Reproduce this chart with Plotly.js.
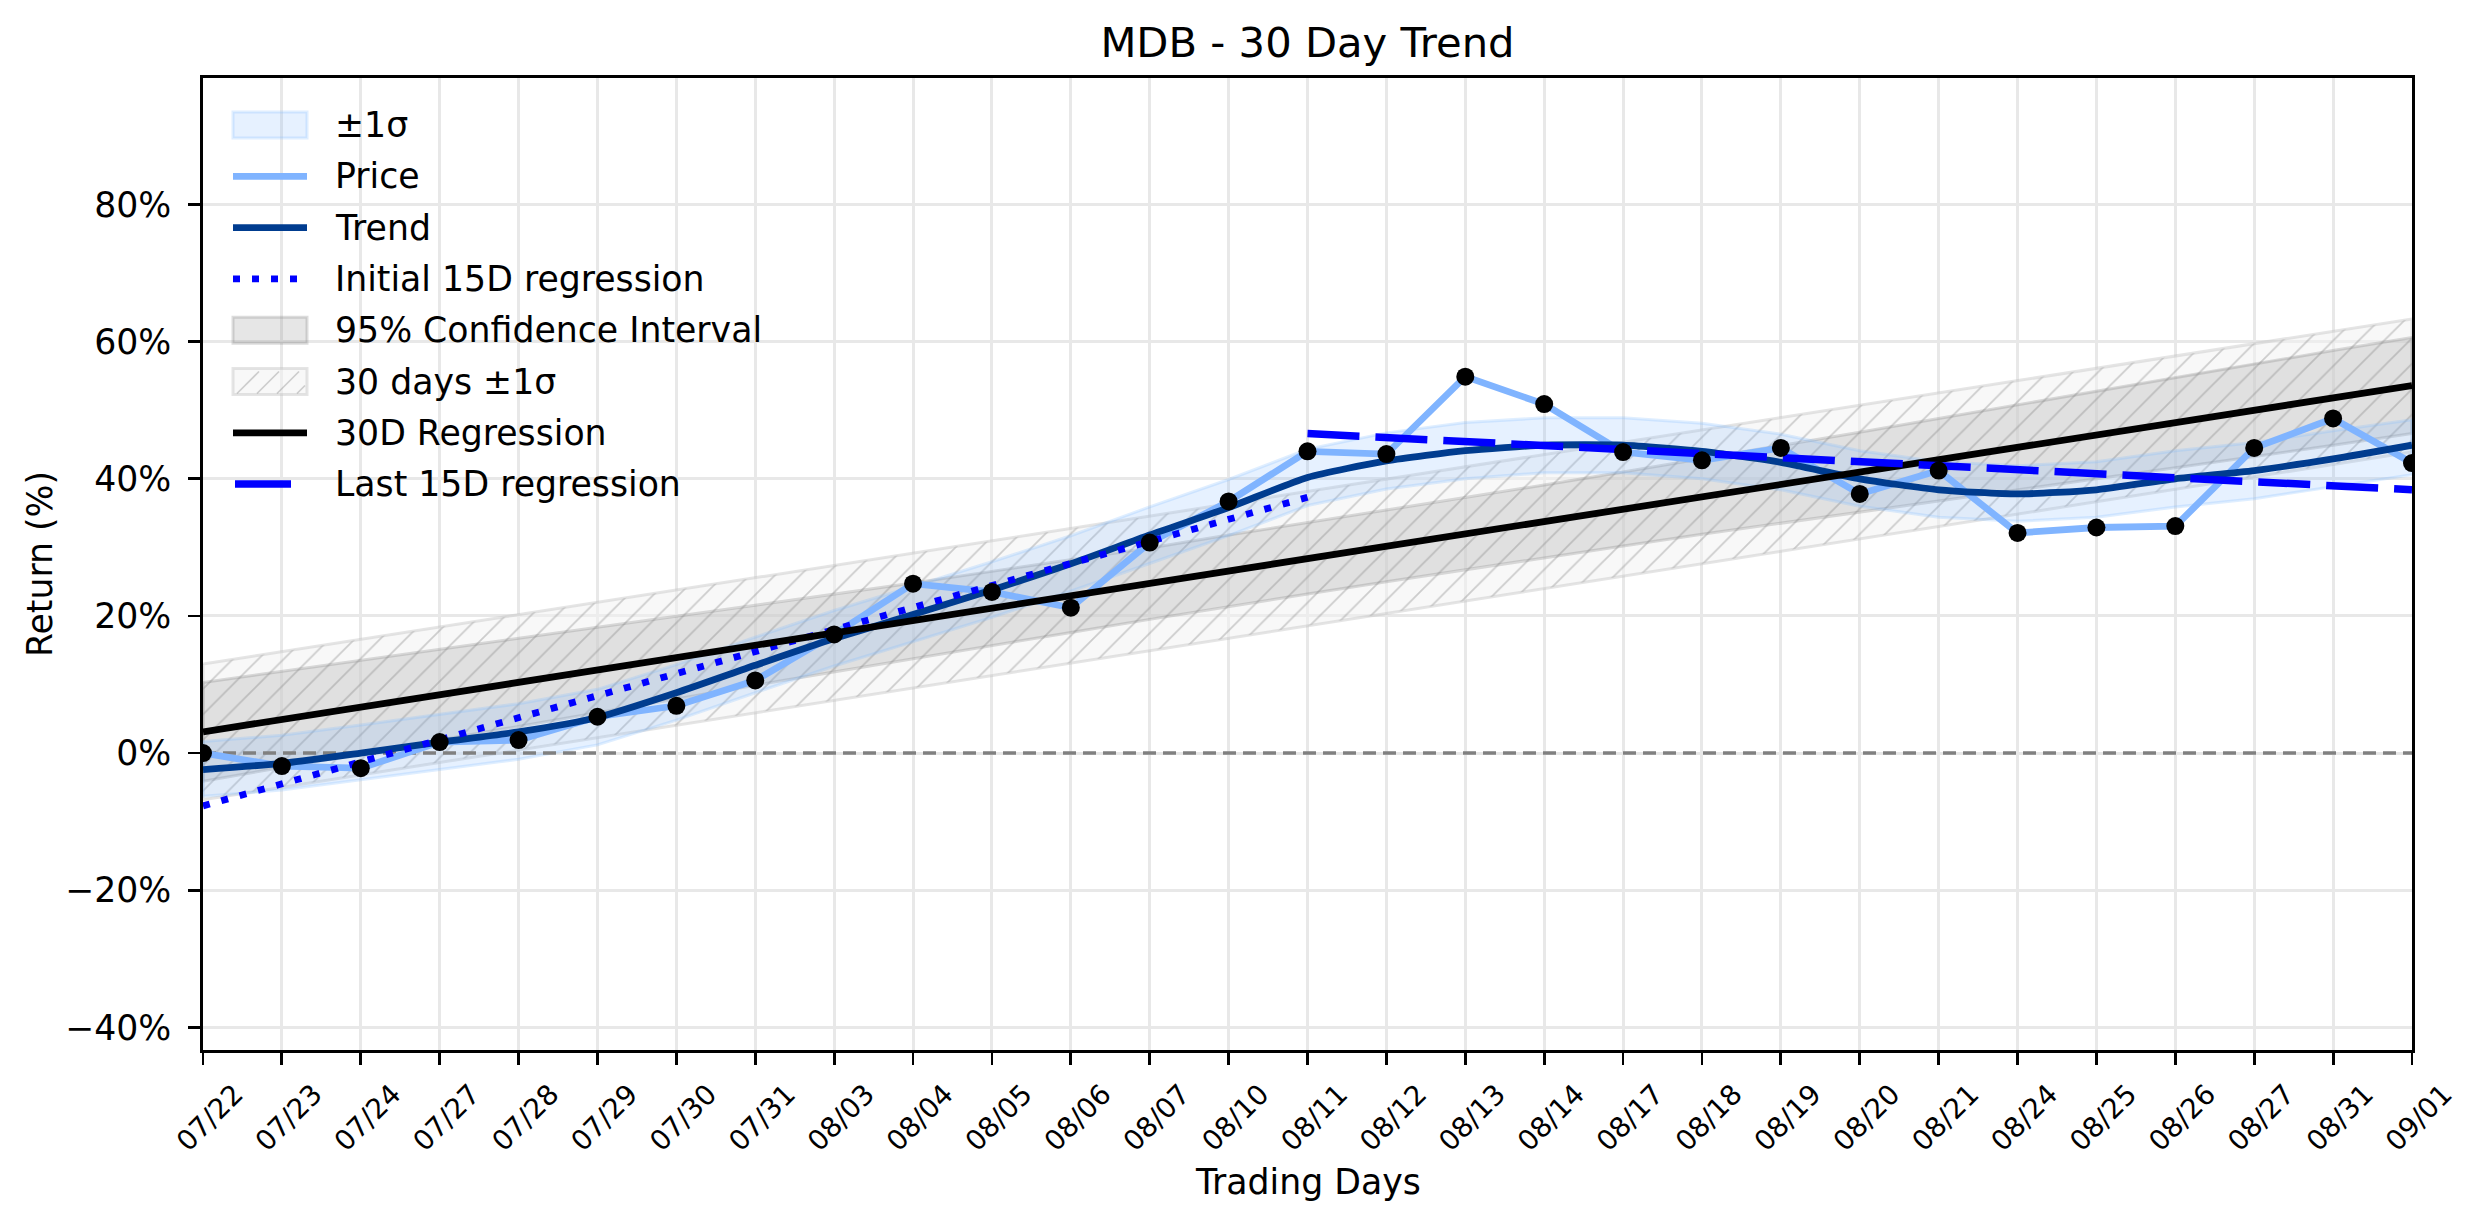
<!DOCTYPE html>
<html>
<head>
<meta charset="utf-8">
<script src="https://cdn.plot.ly/plotly-3.0.1.min.js"></script>
<style>
  html, body { margin: 0; padding: 0; background: #fff; }
  #plot { width: 2474px; height: 1224px; }
</style>
</head>
<body>
<div id="plot"></div>
<script>
// trading days on the x axis
const days = [
  "07/22", "07/23", "07/24", "07/27", "07/28", "07/29", "07/30", "07/31",
  "08/03", "08/04", "08/05", "08/06", "08/07", "08/10", "08/11", "08/12",
  "08/13", "08/14", "08/17", "08/18", "08/19", "08/20", "08/21", "08/24",
  "08/25", "08/26", "08/27", "08/31", "09/01"
];

// return (%)
const price = [
  0.0, -1.9, -2.2, 1.6, 1.9, 5.3, 6.9, 10.6, 17.3, 24.7, 23.5, 21.2, 30.7, 36.7,
  44.0, 43.6, 54.9, 50.9, 43.9, 42.7, 44.5, 37.8, 41.2, 32.1, 32.9, 33.1, 44.5,
  48.8, 42.3
];
const trend = [
  -2.4, -1.5, 0.0, 1.6, 3.1, 5.2, 8.8, 12.8, 16.7, 20.2, 23.8, 27.6, 31.8, 35.8,
  40.2, 42.6, 44.1, 44.9, 44.9, 44.0, 42.4, 40.0, 38.4, 37.8, 38.4, 40.0, 41.2,
  42.9, 44.9
];
const sigmaUpper = [
  1.7, 2.6, 4.1, 5.7, 7.2, 9.3, 12.9, 16.9, 20.8, 24.3, 27.9, 31.7, 35.9, 39.9,
  44.3, 46.7, 48.2, 48.9, 48.9, 48.1, 46.5, 44.1, 42.5, 41.9, 42.5, 44.1, 45.3,
  47.0, 48.6
];
const sigmaLower = [
  -6.3, -5.4, -3.9, -2.4, -0.9, 1.2, 4.8, 8.8, 12.7, 16.2, 19.8, 23.6, 27.7, 31.7,
  36.1, 38.5, 40.0, 40.9, 40.9, 40.0, 38.4, 36.0, 34.4, 33.8, 34.4, 35.9, 37.1,
  38.8, 40.6
];
// 95% confidence interval of the 30 day regression
const ciUpper = [
  10.3, 11.9, 13.5, 15.1, 16.7, 18.3, 19.9, 21.5, 23.1, 24.8, 26.5, 28.2, 29.9,
  31.8, 33.6, 35.4, 37.2, 39.1, 41.0, 42.9, 44.8, 46.8, 48.8, 50.8, 52.8, 54.8,
  56.8, 58.7, 60.6
];
const ciLower = [
  -4.1, -2.1, -0.1, 1.9, 3.9, 5.9, 7.9, 9.9, 11.9, 13.8, 15.7, 17.6, 19.5, 21.4,
  23.2, 25.0, 26.8, 28.5, 30.2, 31.9, 33.6, 35.2, 36.8, 38.4, 40.0, 41.6, 43.2,
  44.9, 46.6
];
// straight lines: value at their first and last day
const reg30 = [3.1, 53.6];          // 07/22 -> 09/01
const band30Upper = [13.0, 63.3];   // 07/22 -> 09/01
const band30Lower = [-6.8, 43.9];   // 07/22 -> 09/01
const init15 = [-7.7, 37.3];        // 07/22 -> 08/11
const last15 = [46.6, 38.4];        // 08/11 -> 09/01

const yTicks = [-40, -20, 0, 20, 40, 60, 80];

const FONT = "DejaVu Sans, Liberation Sans, sans-serif";
const first = days[0];
const mid = days[14];
const last = days[days.length - 1];
const rev = (a) => a.slice().reverse();

// styles shared by the plot and the hand-made legend
const S = {
  sigma: { fill: "rgba(128,186,255,0.2)", edge: "rgba(128,186,255,0.25)" },
  ci: { fill: "rgba(128,128,128,0.2)", edge: "rgba(128,128,128,0.28)" },
  band30: { fill: "rgba(242,242,242,0.5)", edge: "rgba(190,190,190,0.4)", hatch: "rgba(150,150,150,0.45)" },
  price: { color: "#80b4ff", width: 6.8 },
  trend: { color: "#003c8f", width: 6.8 },
  init: { color: "#0000ff", width: 6.8, dash: "7px,12px" },
  reg: { color: "#000000", width: 6.8 },
  last: { color: "#0000ff", width: 7.5, dash: "52px,16px" }
};

// polygon of a band, drawn as a filled area plus a faint outline
function band(xs, ys, st, pattern) {
  const area = {
    x: xs,
    y: ys,
    mode: "none",
    fill: "toself",
    fillcolor: st.fill,
    hoverinfo: "skip"
  };
  if (pattern) area.fillpattern = pattern;
  const outline = {
    x: xs.concat([xs[0]]),
    y: ys.concat([ys[0]]),
    mode: "lines",
    line: { color: st.edge, width: 3 },
    hoverinfo: "skip"
  };
  return [area, outline];
}

const traces = [
  ...band(
    [first, last, last, first],
    [band30Upper[0], band30Upper[1], band30Lower[1], band30Lower[0]],
    S.band30,
    { shape: "/", fgcolor: S.band30.hatch, bgcolor: S.band30.fill, size: 18, solidity: 0.1 }
  ),
  ...band(days.concat(rev(days)), ciUpper.concat(rev(ciLower)), S.ci),
  ...band(days.concat(rev(days)), sigmaUpper.concat(rev(sigmaLower)), S.sigma),
  {
    x: [first, last],
    y: [0, 0],
    mode: "lines",
    line: { color: "#808080", width: 3.5, dash: "13px,7px" },
    hoverinfo: "skip"
  },
  { x: days, y: price, mode: "lines", line: S.price, name: "Price" },
  {
    x: days,
    y: trend,
    mode: "lines",
    line: Object.assign({ shape: "spline", smoothing: 0.6 }, S.trend),
    name: "Trend"
  },
  { x: [first, mid], y: init15, mode: "lines", line: S.init, name: "Initial 15D regression" },
  { x: [first, last], y: reg30, mode: "lines", line: S.reg, name: "30D Regression" },
  { x: [mid, last], y: last15, mode: "lines", line: S.last, name: "Last 15D regression" },
  { x: days, y: price, mode: "markers", marker: { color: "#000000", size: 18 } }
];

// ---- legend drawn by hand (matplotlib style: long keys, patches) ----
const PLOT = { l: 203, r: 2412, t: 78, b: 1050 };
const px = (x) => (x - PLOT.l) / (PLOT.r - PLOT.l);
const py = (y) => (PLOT.b - y) / (PLOT.b - PLOT.t);

const legendItems = [
  { label: "±1σ", kind: "patch", st: S.sigma },
  { label: "Price", kind: "line", st: S.price },
  { label: "Trend", kind: "line", st: S.trend },
  { label: "Initial 15D regression", kind: "line", st: S.init },
  { label: "95% Confidence Interval", kind: "patch", st: S.ci },
  { label: "30 days ±1σ", kind: "hatch", st: S.band30 },
  { label: "30D Regression", kind: "line", st: S.reg },
  { label: "Last 15D regression", kind: "line", st: S.last }
];

const shapes = [];
const annotations = [];
const KEY_L = 233, KEY_R = 307, TEXT_X = 333, ROW0 = 125, ROW_H = 51.3;

legendItems.forEach((it, i) => {
  const cy = ROW0 + i * ROW_H;
  if (it.kind === "line") {
    const dashed = it.st.dash && it.st.dash.startsWith("52");
    shapes.push({
      type: "line",
      xref: "paper", yref: "paper",
      x0: px(dashed ? 235 : KEY_L), x1: px(dashed ? 291 : KEY_R),
      y0: py(cy), y1: py(cy),
      line: { color: it.st.color, width: it.st.width, dash: dashed ? "solid" : (it.st.dash || "solid") }
    });
  } else {
    shapes.push({
      type: "rect",
      xref: "paper", yref: "paper",
      x0: px(KEY_L), x1: px(KEY_R),
      y0: py(cy - 13), y1: py(cy + 13),
      fillcolor: it.st.fill,
      line: { color: it.st.edge, width: 3 }
    });
    if (it.kind === "hatch") {
      for (let k = 0; k < 4; k++) {
        const x0 = KEY_L + 4 + k * 20;
        const x1 = Math.min(x0 + 22, KEY_R - 2);
        shapes.push({
          type: "line",
          xref: "paper", yref: "paper",
          x0: px(x0), x1: px(x1),
          y0: py(cy + 12), y1: py(cy + 12 - (x1 - x0)),
          line: { color: it.st.hatch, width: 1.6 }
        });
      }
    }
  }
  annotations.push({
    text: it.label,
    xref: "paper", yref: "paper",
    x: px(TEXT_X), y: py(cy),
    xanchor: "left", yanchor: "middle",
    showarrow: false,
    font: { family: FONT, size: 34.7, color: "#000" }
  });
});

annotations.push({
  text: "Trading Days",
  xref: "paper", yref: "paper",
  x: 0.5, y: py(1182),
  xanchor: "center", yanchor: "middle",
  showarrow: false,
  font: { family: FONT, size: 34.7, color: "#000" }
});

const layout = {
  width: 2474,
  height: 1224,
  paper_bgcolor: "#ffffff",
  plot_bgcolor: "#ffffff",
  font: { family: FONT, size: 34.7, color: "#000000" },
  margin: { l: 203, r: 62, t: 78, b: 174, pad: 0 },
  showlegend: false,
  title: {
    text: "MDB - 30 Day Trend",
    font: { family: FONT, size: 41.7, color: "#000000" },
    x: 0.5,
    xref: "paper",
    y: 1 - 42 / 1224,
    yref: "container",
    yanchor: "middle"
  },
  xaxis: {
    type: "category",
    categoryorder: "array",
    categoryarray: days,
    range: [0, days.length - 1],
    tickangle: -45,
    tickfont: { family: FONT, size: 27.8 },
    ticks: "outside",
    ticklen: 12,
    tickwidth: 2.8,
    tickcolor: "#000",
    ticklabelshift: 32,
    ticklabelstandoff: 2,
    showgrid: true,
    gridcolor: "#e8e8e8",
    gridwidth: 3,
    showline: true,
    linecolor: "#000",
    linewidth: 2.8,
    mirror: true,
    zeroline: false,
    automargin: false
  },
  yaxis: {
    range: [-43.3, 98.45],
    tickvals: yTicks,
    ticktext: yTicks.map((v) => (v < 0 ? "\u2212" + Math.abs(v) : String(v)) + "%"),
    tickfont: { family: FONT, size: 34.7 },
    ticks: "outside",
    ticklen: 12,
    tickwidth: 2.8,
    tickcolor: "#000",
    ticklabelstandoff: 10,
    showgrid: true,
    gridcolor: "#e8e8e8",
    gridwidth: 3,
    showline: true,
    linecolor: "#000",
    linewidth: 2.8,
    mirror: true,
    zeroline: false,
    automargin: false,
    title: { text: "Return (%)", font: { family: FONT, size: 34.7 }, standoff: 2 }
  },
  shapes: shapes,
  annotations: annotations
};

Plotly.newPlot("plot", traces, layout, { staticPlot: true });
</script>
</body>
</html>
